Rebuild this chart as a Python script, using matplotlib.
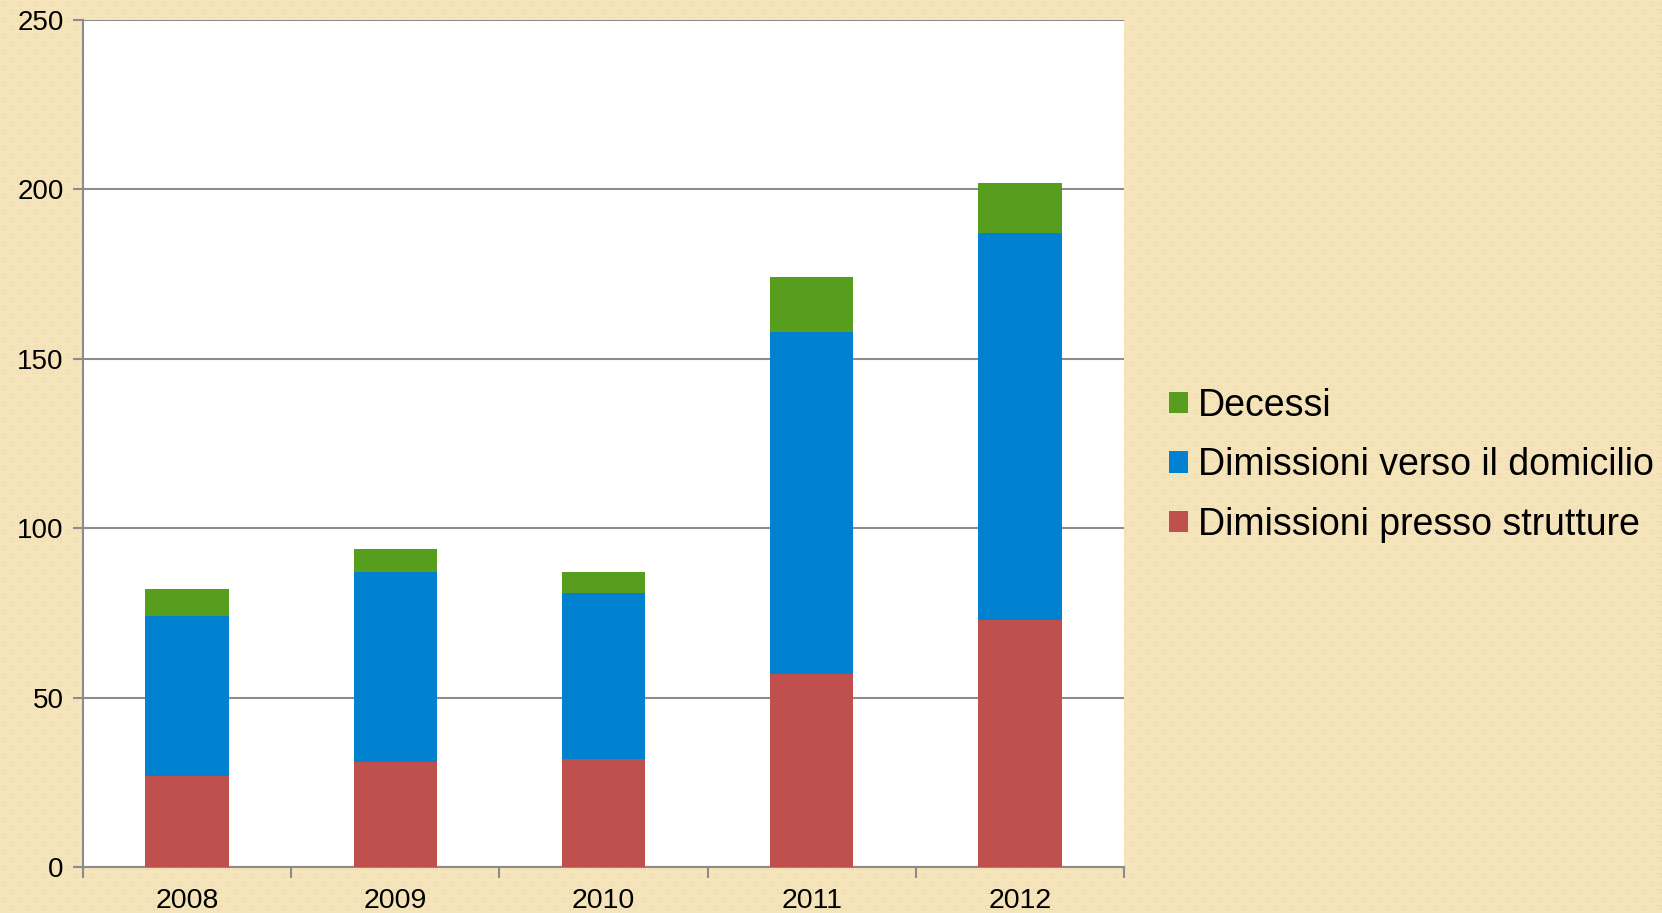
import matplotlib
matplotlib.use("Agg")
import matplotlib.pyplot as plt
import numpy as np

years = ["2008", "2009", "2010", "2011", "2012"]
strutture = [27, 31, 32, 57, 73]
domicilio = [47, 56, 49, 101, 114]
decessi = [8, 7, 6, 16, 15]

c_red = "#C0504D"
c_blue = "#0082D0"
c_green = "#589E1E"
grid_c = "#8C8C8C"

plt.rcParams['font.family'] = ['Liberation Sans', 'DejaVu Sans']

W, H = 1662, 913
fig = plt.figure(figsize=(W / 100, H / 100), dpi=100)

# textured parchment-like background
yy, xx = np.mgrid[0:H, 0:W]
base = np.array([246, 229, 186]) / 255.0
dark = np.array([236, 216, 168]) / 255.0
px, py = xx % 8, yy % 8
ring = ((px == 1) | (px == 5)) & ((py >= 1) & (py <= 5)) | ((py == 1) | (py == 5)) & ((px >= 1) & (px <= 5))
chk = ((xx // 8 + yy // 8) % 2 == 0)
mask = (ring & chk).astype(float) * 0.6 + (ring & ~chk).astype(float) * 0.3
img = base[None, None, :] * (1 - mask[..., None]) + dark[None, None, :] * mask[..., None]
fig.figimage(img, xo=0, yo=0, origin='upper', zorder=-10)

ax = fig.add_axes([83 / W, 1 - 867 / H, (1124 - 83) / W, (867 - 20) / H])
ax.set_facecolor("white")

x = np.arange(len(years))
w = 0.4
bottom2 = np.array(strutture)
bottom3 = bottom2 + np.array(domicilio)
b1 = ax.bar(x, strutture, w, color=c_red, label="Dimissioni presso strutture", zorder=3)
b2 = ax.bar(x, domicilio, w, bottom=bottom2, color=c_blue, label="Dimissioni verso il domicilio", zorder=3)
b3 = ax.bar(x, decessi, w, bottom=bottom3, color=c_green, label="Decessi", zorder=3)

ax.set_xlim(-0.5, len(years) - 0.5)
ax.set_ylim(0, 250)
ax.set_yticks(np.arange(0, 251, 50))
ax.yaxis.grid(True, color=grid_c, linewidth=1.5, zorder=1)
ax.set_axisbelow(True)

ax.set_xticks(np.arange(-0.5, len(years), 1.0))
ax.set_xticklabels([])
ax.set_xticks(x, minor=True)
ax.set_xticklabels(years, minor=True)
ax.tick_params(axis='x', which='minor', length=0, labelsize=20.5, pad=15)
ax.tick_params(axis='x', which='major', length=8, width=1.5, color=grid_c)
ax.tick_params(axis='y', length=7, width=1.5, color=grid_c, labelsize=20, pad=7)

for s in ['top', 'right']:
    ax.spines[s].set_visible(False)
for s in ['left', 'bottom']:
    ax.spines[s].set_color(grid_c)
    ax.spines[s].set_linewidth(1.5)

handles = [b3, b2, b1]
labels = [h.get_label() for h in handles]
leg = fig.legend(handles, labels, loc='upper left', bbox_to_anchor=(1169 / W, 1 - 388 / H),
                 frameon=False, fontsize=27, handlelength=0.5, handleheight=0.5,
                 handletextpad=0.28, labelspacing=0.62, borderaxespad=0, borderpad=0)

fig.savefig("out.png", dpi=100)
